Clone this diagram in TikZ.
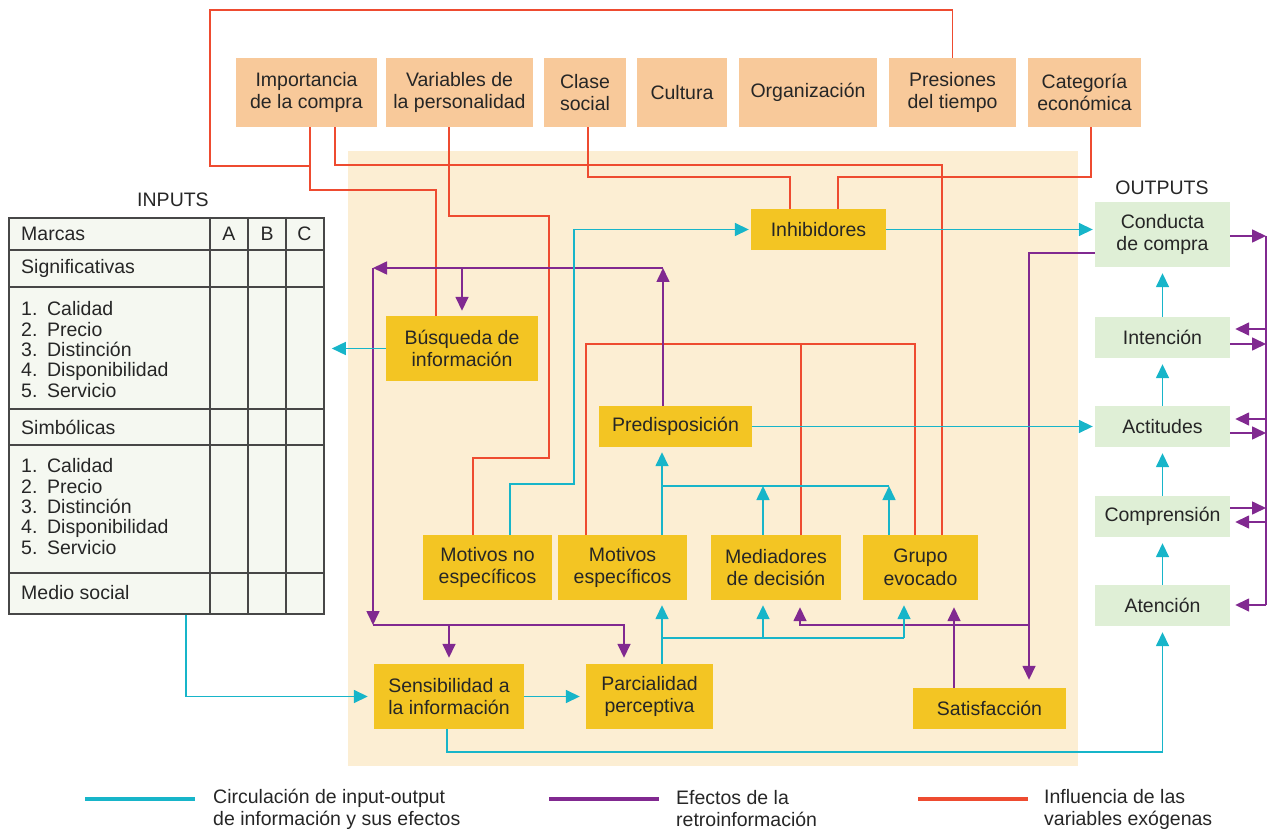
\documentclass[tikz,border=0pt]{standalone}
\usepackage{fontspec}
\setmainfont{Liberation Sans}
\usepackage{tikz}
\usetikzlibrary{arrows.meta}
\definecolor{peach}{HTML}{F8C99A}
\definecolor{yel}{HTML}{F3C523}
\definecolor{beige}{HTML}{FCEED3}
\definecolor{grn}{HTML}{DFEFD6}
\definecolor{tabbg}{HTML}{F5F8F1}
\definecolor{cyanc}{HTML}{17B5C9}
\definecolor{purc}{HTML}{812990}
\definecolor{redc}{HTML}{EE4B30}
\definecolor{inkc}{HTML}{262626}
\tikzset{
  base/.style={align=center,inner sep=0pt,text=inkc,font=\fontsize{19.5}{22.5}\selectfont},
  ext/.style={base,fill=peach,minimum height=69pt},
  proc/.style={base,fill=yel},
  outb/.style={base,fill=grn,minimum width=135pt,minimum height=41pt},
  tabt/.style={base,anchor=west,align=left},
  lgd/.style={base,anchor=west,align=left,font=\fontsize{19.5}{22}\selectfont},
  grid/.style={draw=inkc!85,line width=1.8pt},
  tip/.style={-{Triangle[length=14pt,width=13pt]}},
  cy/.style={line width=1.6pt,cyanc},
  cya/.style={cy,tip},
  pu/.style={line width=1.6pt,purc},
  pua/.style={pu,tip},
  rd/.style={line width=1.6pt,redc}
}
\newcommand{\itm}[1]{\makebox[1.33em][l]{#1.}}

\begin{document}
\begin{tikzpicture}[x=1pt,y=-1pt]
\useasboundingbox (0,0) rectangle (1274,834);
\fill[beige] (348,151) rectangle (1078,766);

% exogenous variables
\node[ext,minimum width=141pt] (imp) at (306.5,92.5) {Importancia\\de la compra};
\node[ext,minimum width=147pt] (var) at (459.5,92.5) {Variables de\\la personalidad};
\node[ext,minimum width=82pt] (cla) at (585,92.5) {Clase\\social};
\node[ext,minimum width=90pt] (cul) at (682,92.5) {Cultura};
\node[ext,minimum width=138pt] (org) at (808,92.5) {Organización};
\node[ext,minimum width=127pt] (pre) at (952.5,92.5) {Presiones\\del tiempo};
\node[ext,minimum width=113pt] (cat) at (1084.5,92.5) {Categoría\\económica};

% process boxes
\node[proc,minimum width=135pt,minimum height=41pt] (inh) at (818.5,229.5) {Inhibidores};
\node[proc,minimum width=152pt,minimum height=65pt] (bus) at (462,348.5) {Búsqueda de\\información};
\node[proc,minimum width=153pt,minimum height=41pt] (pred) at (675.5,426.5) {Predisposición};
\node[proc,minimum width=129pt,minimum height=65pt] (mne) at (487.5,567.5) {Motivos no\\específicos};
\node[proc,minimum width=129pt,minimum height=65pt] (mes) at (622.5,567.5) {Motivos\\específicos};
\node[proc,minimum width=130pt,minimum height=65pt] (med) at (776,567.5) {Mediadores\\de decisión};
\node[proc,minimum width=115pt,minimum height=65pt] (grp) at (920.5,567.5) {Grupo\\evocado};
\node[proc,minimum width=150pt,minimum height=65pt] (sen) at (449,696.5) {Sensibilidad a\\la información};
\node[proc,minimum width=127pt,minimum height=65pt] (par) at (649.5,696.5) {Parcialidad\\perceptiva};
\node[proc,minimum width=153pt,minimum height=41pt] (sat) at (989.5,708.5) {Satisfacción};

% outputs
\node[base] (outl) at (1162,188) {OUTPUTS};
\node[outb,minimum height=65pt] (con) at (1162.5,234.5) {Conducta\\de compra};
\node[outb] (int) at (1162.5,337.5) {Intención};
\node[outb] (act) at (1162.5,426.5) {Actitudes};
\node[outb] (com) at (1162.5,516.5) {Comprensión};
\node[outb] (ate) at (1162.5,605.5) {Atención};

% inputs table
\node[base] (inl) at (173,200) {INPUTS};
\node[fill=tabbg,draw=inkc!85,line width=1.8pt,minimum width=315pt,minimum height=396pt,anchor=north west,inner sep=0pt] (tab) at (8,217) {};
\foreach \yy in {250,287,409,445,573}
  \draw[grid] (tab.west |- 0,\yy) -- (tab.east |- 0,\yy);
\foreach \xx in {210,248,286}
  \draw[grid] (tab.north -| \xx,0) -- (tab.south -| \xx,0);
\node[tabt] (tmar) at (21,233.5) {Marcas};
\node[base] (ta) at (229,233.5) {A};
\node[base] (tb) at (267,233.5) {B};
\node[base] (tc) at (304.5,233.5) {C};
\node[tabt] (tsig) at (21,268.5) {Significativas};
\node[tabt,font=\fontsize{19.5}{20.3}\selectfont] (tls1) at (21,349.5) {\itm{1}Calidad\\\itm{2}Precio\\\itm{3}Distinción\\\itm{4}Disponibilidad\\\itm{5}Servicio};
\node[tabt] (tsim) at (21,427) {Simbólicas};
\node[tabt,font=\fontsize{19.5}{20.3}\selectfont] (tls2) at (21,506.5) {\itm{1}Calidad\\\itm{2}Precio\\\itm{3}Distinción\\\itm{4}Disponibilidad\\\itm{5}Servicio};
\node[tabt] (tmed) at (21,592.5) {Medio social};

% exogenous influence
\draw[rd] (pre.north) |- (210,10) |- (310,166);
\draw[rd] (imp.south -| 310,0) |- (436,190) -- (bus.north -| 436,0);
\draw[rd] (imp.south -| 335,0) |- (942,165) -- (grp.north -| 942,0);
\draw[rd] (var.south -| 449,0) |- (549,216) |- (473,458) -- (mne.north -| 473,0);
\draw[rd] (cla.south -| 588,0) |- (790,177) -- (inh.north -| 790,0);
\draw[rd] (cat.south -| 1091,0) |- (838,177) -- (inh.north -| 838,0);
\draw[rd] (mes.north -| 586,0) |- (915,344) -- (grp.north -| 915,0);
\draw[rd] (801,344) -- (med.north -| 801,0);

% feedback
\coordinate (fb) at (1266,0);
\draw[pua] (con.east |- 0,236) -- (fb |- 0,236);
\draw[pu] (fb |- 0,236) -- (fb |- 0,605);
\draw[pua,shorten >=5pt] (fb |- 0,329) -- (int.east |- 0,329);
\draw[pua] (int.east |- 0,344) -- (fb |- 0,344);
\draw[pua,shorten >=5pt] (fb |- 0,419) -- (act.east |- 0,419);
\draw[pua] (act.east |- 0,433) -- (fb |- 0,433);
\draw[pua] (com.east |- 0,508) -- (fb |- 0,508);
\draw[pua,shorten >=5pt] (fb |- 0,522) -- (com.east |- 0,522);
\draw[pua,shorten >=5pt] (fb |- 0,605) -- (ate.east |- 0,605);
\draw[pua] (pred.north -| 663,0) -- (663,268);
\draw[pua] (663,268) -- (373,268);
\draw[pua] (373,268) -- (373,625);
\draw[pua,shorten >=5pt] (462,268) -- (bus.north -| 462,0);
\draw[pua,shorten >=6pt] (373,625) -| (par.north -| 624,0);
\draw[pua,shorten >=6pt] (449,625) -- (sen.north -| 449,0);
\draw[pua,shorten >=8pt] (con.west |- 0,253) -| (sat.north -| 1029,0);
\draw[pua,shorten >=7pt] (1029,625) -| (med.south -| 800,0);
\draw[pua,shorten >=7pt] (sat.north -| 954,0) -- (grp.south -| 954,0);

% input-output flow
\draw[cya,shorten >=2pt] (inh.east) -- (inh.east -| con.west);
\draw[cya,shorten >=2pt] (mne.north -| 510,0) |- (574,484) |- (inh.west);
\draw[cya] (bus.west) -- ([xshift=7pt]tab.east |- bus.west);
\draw[cya,shorten >=2pt] (pred.east) -- (pred.east -| act.west);
\draw[cya,shorten >=5pt] (mes.north -| 662,0) -- (pred.south -| 662,0);
\coordinate (mj) at (662,486);
\draw[cy] (mj) -- (889,486);
\draw[cya] (med.north -| 763,0) -- (mj -| 763,0);
\draw[cya] (grp.north -| 889,0) -- (mj -| 889,0);
\draw[cya,shorten >=5pt] (par.north -| 662,0) -- (mes.south -| 662,0);
\coordinate (pj) at (662,638);
\draw[cy] (pj) -- (904,638);
\draw[cya,shorten >=5pt] (pj -| 763,0) -- (med.south -| 763,0);
\draw[cya,shorten >=5pt] (pj -| 904,0) -- (grp.south -| 904,0);
\draw[cya,shorten >=6pt] (sen.east) -- (par.west);
\draw[cya,shorten >=6pt] (tab.south -| 186,0) |- (sen.west);
\draw[cya,shorten >=6pt] (sen.south -| 447,0) |- (ate.south |- 0,752) -- (ate.south);
\foreach \a/\b in {ate/com,com/act,act/int,int/con}
  \draw[cya,shorten >=6pt] (\a.north) -- (\b.south);

% legend
\draw[cyanc,line width=4pt] (85,799) -- (195,799);
\node[lgd] (lg1) at (213,809) {Circulación de input-output\\de información y sus efectos};
\draw[purc,line width=4pt] (549,799) -- (659,799);
\node[lgd] (lg2) at (676,809) {Efectos de la\\retroinformación};
\draw[redc,line width=4pt] (918,799) -- (1028,799);
\node[lgd] (lg3) at (1044,809) {Influencia de las\\variables exógenas};
\end{tikzpicture}
\end{document}
